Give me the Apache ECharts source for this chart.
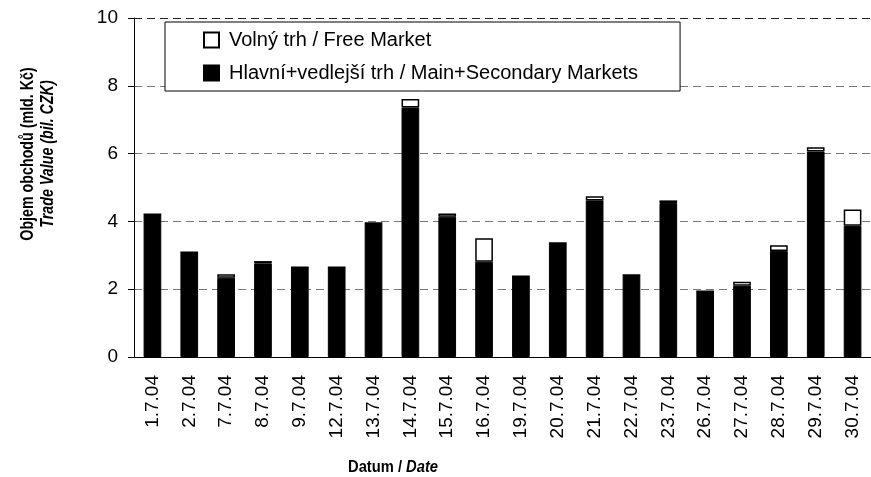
<!DOCTYPE html>
<html>
<head>
    <meta charset="utf-8" />
    <title>Objem obchodů</title>
    <script src="https://cdn.jsdelivr.net/npm/echarts@6/dist/echarts.min.js"></script>
    <style>
        html, body { margin: 0; padding: 0; background: #fff; }
        #main { width: 871px; height: 477px; }
    </style>
</head>
<body>
    <div id="main"></div>
    <script type="text/javascript">
        var dates = ['1.7.04', '2.7.04', '7.7.04', '8.7.04', '9.7.04', '12.7.04', '13.7.04', '14.7.04', '15.7.04', '16.7.04',
            '19.7.04', '20.7.04', '21.7.04', '22.7.04', '23.7.04', '26.7.04', '27.7.04', '28.7.04', '29.7.04', '30.7.04'];
        // Hlavni+vedlejsi trh (mld. Kc)
        var mainValues = [4.21, 3.09, 2.34, 2.76, 2.65, 2.65, 3.95, 7.36, 4.14, 2.81,
            2.38, 3.36, 4.62, 2.42, 4.54, 1.94, 2.10, 3.13, 6.06, 3.87];
        // Volny trh (mld. Kc)
        var freeValues = [0, 0, 0.10, 0.07, 0, 0, 0, 0.25, 0.09, 0.69,
            0, 0, 0.12, 0, 0.08, 0, 0.12, 0.17, 0.13, 0.48];
        var yTicks = [0, 2, 4, 6, 8, 10];

        var font = '"Liberation Sans", Arial, sans-serif';
        var myChart = echarts.init(document.getElementById('main'));
        var option = {
            animation: false,
            textStyle: { fontFamily: font, color: '#000' },
            grid: { left: 134, right: 0, top: 18, bottom: 120 },
            legend: {
                data: ['Volný trh / Free Market', 'Hlavní+vedlejší trh / Main+Secondary Markets'],
                orient: 'vertical',
                left: 165, top: 22,
                padding: [8, 42, 8, 38],
                icon: 'rect',
                itemWidth: 15, itemHeight: 15, itemGap: 13,
                backgroundColor: '#fff',
                borderColor: '#000', borderWidth: 1,
                z: 10,
                textStyle: { fontFamily: font, fontSize: 20, color: '#000', padding: [0, 0, 0, 5] }
            },
            graphic: [
                {
                    type: 'text', x: 38, y: 154, rotation: Math.PI / 2, scaleX: 0.75,
                    style: {
                        text: '{a|Objem obchodů (mld. Kč)}\n{b|Trade Value (bil. CZK)}',
                        textAlign: 'center', textVerticalAlign: 'middle',
                        rich: {
                            a: { fontFamily: font, fontSize: 19, fontWeight: 'bold', lineHeight: 20, fill: '#000' },
                            b: { fontFamily: font, fontSize: 19, fontWeight: 'bold', fontStyle: 'italic', lineHeight: 20, fill: '#000' }
                        }
                    }
                },
                {
                    type: 'text', x: 393, y: 468, scaleX: 0.92,
                    style: {
                        text: '{a|Datum / }{b|Date}',
                        textAlign: 'center', textVerticalAlign: 'middle',
                        rich: {
                            a: { fontFamily: font, fontSize: 16, fontWeight: 'bold', fill: '#000' },
                            b: { fontFamily: font, fontSize: 16, fontWeight: 'bold', fontStyle: 'italic', fill: '#000' }
                        }
                    }
                }
            ],
            xAxis: {
                type: 'category',
                data: dates,
                axisLine: { lineStyle: { color: '#000', width: 1 } },
                axisTick: { length: 7, lineStyle: { color: '#000' } },
                axisLabel: { rotate: 90, margin: 18, fontSize: 19, color: '#000', fontFamily: font, interval: 0 }
            },
            yAxis: {
                type: 'value',
                min: yTicks[0], max: yTicks[yTicks.length - 1], interval: 2,
                axisLine: { show: true, lineStyle: { color: '#000', width: 1 } },
                axisTick: { show: true, length: 6, lineStyle: { color: '#000' } },
                axisLabel: { margin: 16, fontSize: 19, color: '#000', fontFamily: font },
                splitLine: {
                    show: true,
                    lineStyle: { color: ['#777', '#777', '#777', '#777', '#777', '#222'], type: [8, 5], width: 1 }
                }
            },
            series: [
                {
                    name: 'Hlavní+vedlejší trh / Main+Secondary Markets',
                    type: 'bar', stack: 'total', barWidth: '48%',
                    data: mainValues,
                    itemStyle: { color: '#000', borderColor: '#000', borderWidth: 1 }
                },
                {
                    name: 'Volný trh / Free Market',
                    type: 'bar', stack: 'total', barWidth: '48%',
                    data: freeValues,
                    itemStyle: { color: '#fff', borderColor: '#000', borderWidth: 1.5 }
                }
            ]
        };
        myChart.setOption(option);
    </script>
</body>
</html>
